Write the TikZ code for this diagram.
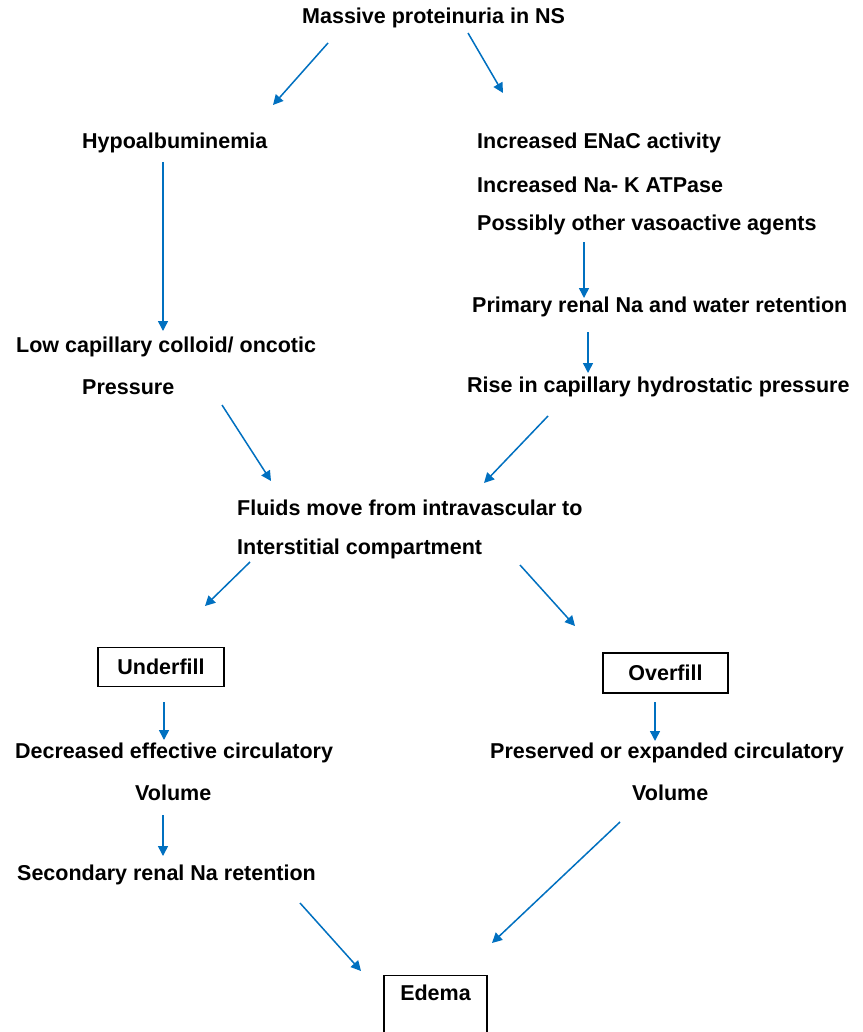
\documentclass[tikz,border=0pt]{standalone}
\usepackage{fontspec}
\setmainfont{Liberation Sans}
\usetikzlibrary{arrows.meta}
\definecolor{arrblue}{RGB}{0,112,192}
\begin{document}
\begin{tikzpicture}[x=1pt,y=-1pt,
  txt/.style={anchor=west,inner sep=0pt,font=\fontsize{21.5}{25}\selectfont\bfseries},
  boxnode/.style={draw,line width=1.2pt,inner sep=0pt,font=\fontsize{21.5}{25}\selectfont\bfseries},
  arr/.style={draw=arrblue,line width=1.5pt,-{Triangle[width=10pt,length=10pt]},arrblue}]
\useasboundingbox (0,0) rectangle (862,1032);
\clip (0,0) rectangle (862,1032);
\fill[white] (0,0) rectangle (862,1032);
% texts
\node[txt] (top) at (302,18) {Massive proteinuria in NS};
\node[txt] (hypo) at (82,143) {Hypoalbuminemia};
\node[txt] (low1) at (16,347) {Low capillary colloid/ oncotic};
\node[txt] (low2) at (82,387) {Pressure};
\node[txt] (enac) at (477,143) {Increased ENaC activity};
\node[txt] (nak) at (477,185) {Increased Na- K ATPase};
\node[txt] (poss) at (477,225) {Possibly other vasoactive agents};
\node[txt] (prim) at (472,307) {Primary renal Na and water retention};
\node[txt] (rise) at (467,387) {Rise in capillary hydrostatic pressure};
\node[txt] (fl1) at (237,508) {Fluids move from intravascular to};
\node[txt] (fl2) at (237,549) {Interstitial compartment};
\node[boxnode,minimum width=126,minimum height=39] (under) at (161,667) {Underfill};
\node[boxnode,minimum width=125,minimum height=40] (over) at (665.5,673) {Overfill};
\node[txt] (dec1) at (15,753) {Decreased effective circulatory};
\node[txt] (dec2) at (135,793) {Volume};
\node[txt] (sec) at (17,875) {Secondary renal Na retention};
\node[txt] (pre1) at (490,753) {Preserved or expanded circulatory};
\node[txt] (pre2) at (632,793) {Volume};
\node[boxnode,minimum width=103,anchor=north,inner ysep=9pt,text depth=50pt] (edema) at (435.5,975) {Edema};
% arrow end points
\coordinate (a1s) at (328,43); \coordinate (a1e) at (273,105);
\coordinate (a2s) at (468,33); \coordinate (a2e) at (503,93);
\coordinate (a3s) at (163,162); \coordinate (a3e) at (163,331);
\coordinate (a4s) at (584,242); \coordinate (a4e) at (584,298);
\coordinate (a5s) at (588,332); \coordinate (a5e) at (588,373);
\coordinate (a6s) at (222,405); \coordinate (a6e) at (271,481);
\coordinate (a7s) at (548,416); \coordinate (a7e) at (484,483);
\coordinate (a8s) at (250,562); \coordinate (a8e) at (205,606);
\coordinate (a9s) at (520,565); \coordinate (a9e) at (575,626);
\coordinate (a10s) at (164,702); \coordinate (a10e) at (164,740);
\coordinate (a11s) at (655,702); \coordinate (a11e) at (655,741);
\coordinate (a12s) at (163,815); \coordinate (a12e) at (163,856);
\coordinate (a13s) at (300,903); \coordinate (a13e) at (361,971);
\coordinate (a14s) at (620,822); \coordinate (a14e) at (492,943);
\draw[arr] (a1s) -- (a1e);
\draw[arr] (a2s) -- (a2e);
\draw[arr] (a3s) -- (a3e);
\draw[arr] (a4s) -- (a4e);
\draw[arr] (a5s) -- (a5e);
\draw[arr] (a6s) -- (a6e);
\draw[arr] (a7s) -- (a7e);
\draw[arr] (a8s) -- (a8e);
\draw[arr] (a9s) -- (a9e);
\draw[arr] (a10s) -- (a10e);
\draw[arr] (a11s) -- (a11e);
\draw[arr] (a12s) -- (a12e);
\draw[arr] (a13s) -- (a13e);
\draw[arr] (a14s) -- (a14e);
\end{tikzpicture}
\end{document}
